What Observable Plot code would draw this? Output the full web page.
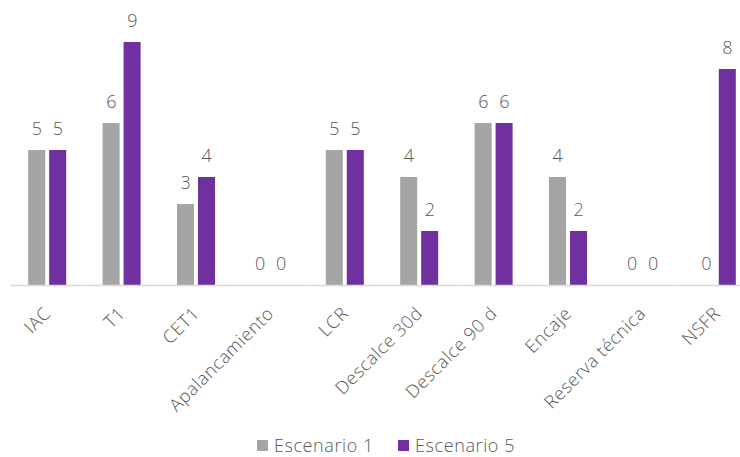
<!DOCTYPE html>
<html>
<head>
<meta charset="utf-8">
<script src="https://cdn.jsdelivr.net/npm/d3@7"></script>
<script src="https://cdn.jsdelivr.net/npm/@observablehq/plot@0.6"></script>
<style>
  body { margin: 0; background: #fff; font-family: "Open Sans", "Noto Sans", sans-serif; }
  #chart svg { overflow: visible; }
  .legend { display: flex; justify-content: center; align-items: center; height: 19px; line-height: 19px; padding-left: 32px; color: #595959; font-size: 18px; font-weight: 300; letter-spacing: 0.6px; }
  .legend span.sw { display: inline-block; width: 11px; height: 11px; margin-right: 6px; }
  .legend .item { display: flex; align-items: center; margin: 0 12px; }
</style>
</head>
<body>
<div id="chart"></div>
<script>
const categories = ["IAC","T1","CET1","Apalancamiento","LCR","Descalce 30d","Descalce 90 d","Encaje","Reserva técnica","NSFR"];
const series = ["Escenario 1","Escenario 5"];
const escenario1 = [5,6,3,0,5,4,6,4,0,0];
const escenario5 = [5,9,4,0,5,2,6,2,0,8];
const colors = ["#A5A5A5","#7030A0"];

const data = categories.flatMap((c, i) => [
  {cat: c, s: series[0], v: escenario1[i]},
  {cat: c, s: series[1], v: escenario5[i]}
]);

const chart = Plot.plot({
  width: 740,
  height: 436,
  marginLeft: 10,
  marginRight: -14,
  marginTop: 15,
  marginBottom: 151,
  style: {fontFamily: '"Open Sans", "Noto Sans", sans-serif', fontSize: "18px", color: "#595959", fontWeight: 300, letterSpacing: "0.6px"},
  fx: {domain: categories, padding: 0, round: false, label: null},
  x: {domain: series, paddingInner: 0.19, paddingOuter: 0.866, round: false, axis: null},
  y: {domain: [0, 10], axis: null},
  color: {domain: series, range: colors},
  marks: [
    Plot.barY(data, {fx: "cat", x: "s", y: "v", fill: "s"}),
    Plot.ruleY([0], {stroke: "#D9D9D9", strokeWidth: 1.5}),
    Plot.text(data, {fx: "cat", x: "s", y: "v", text: d => String(d.v), dy: -21, fill: "#595959", fontSize: 18}),
    Plot.axisFx({anchor: "bottom", tickRotate: -45, tickSize: 0, tickPadding: 25, fontSize: 18, label: null})
  ]
});
document.getElementById("chart").appendChild(chart);

const legend = document.createElement("div");
legend.className = "legend";
series.forEach((s, i) => {
  const item = document.createElement("div");
  item.className = "item";
  const sw = document.createElement("span");
  sw.className = "sw";
  sw.style.background = colors[i];
  item.appendChild(sw);
  item.appendChild(document.createTextNode(s));
  legend.appendChild(item);
});
document.body.appendChild(legend);
</script>
</body>
</html>
